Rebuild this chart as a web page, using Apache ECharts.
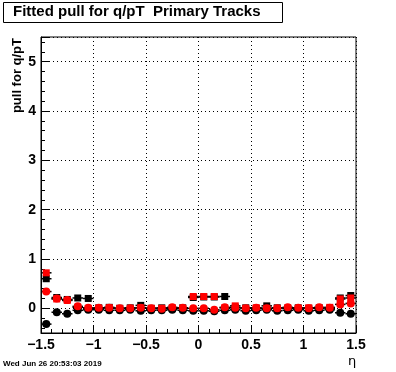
<!DOCTYPE html>
<html lang="en">
  <head>
    <meta charset="UTF-8" />
    <title>Fitted pull for q/pT</title>
    <script src="https://cdn.jsdelivr.net/npm/echarts@6/dist/echarts.min.js"></script>
    <style>
      html, body { margin: 0; padding: 0; background: #fff; }
      #chart { width: 396px; height: 372px; }
    </style>
  </head>
  <body>
    <div id="chart"></div>
    <script>
      // eta bin centres (bin width 0.1)
      const etaBins = [-1.45, -1.35, -1.25, -1.15, -1.05, -0.95, -0.85, -0.75, -0.65, -0.55,
                       -0.45, -0.35, -0.25, -0.15, -0.05, 0.05, 0.15, 0.25, 0.35, 0.45,
                       0.55, 0.65, 0.75, 0.85, 0.95, 1.05, 1.15, 1.25, 1.35, 1.45]
      const blackSquares = [0.60, 0.22, 0.18, 0.21, 0.20, 0.01, 0.02, 0.00, 0.01, 0.06,
                            0.00, 0.01, 0.00, 0.01, 0.22, 0.23, 0.23, 0.24, 0.02, 0.01,
                            0.00, 0.05, 0.01, 0.00, 0.01, 0.00, 0.01, 0.00, 0.21, 0.26]
      const redSquares = [0.72, 0.19, 0.16, 0.02, 0.00, 0.00, 0.01, 0.00, 0.00, 0.01,
                          0.00, 0.00, 0.01, 0.00, 0.24, 0.24, 0.24, 0.01, 0.05, 0.00,
                          0.01, 0.00, 0.00, 0.01, 0.00, 0.01, 0.00, 0.02, 0.19, 0.21]
      const blackCircles = [-0.32, -0.08, -0.11, -0.04, -0.03, -0.03, -0.04, -0.04, -0.03, -0.05,
                            -0.04, -0.04, -0.03, -0.04, -0.05, -0.05, -0.06, -0.04, -0.03, -0.05,
                            -0.04, -0.03, -0.05, -0.04, -0.03, -0.05, -0.04, -0.03, -0.09, -0.11]
      const redCircles = [0.34, 0.20, 0.17, 0.04, 0.01, 0.01, 0.01, 0.00, 0.00, 0.01,
                          0.00, -0.01, 0.02, 0.01, 0.00, 0.00, -0.03, 0.02, 0.01, 0.00,
                          0.01, 0.00, 0.00, 0.02, 0.01, 0.00, 0.02, 0.01, 0.08, 0.10]
      const halfWidth = 0.05

      const chart = echarts.init(document.getElementById('chart'))
      const font = 'Liberation Sans, Arial, Helvetica, sans-serif'

      // marker + horizontal error bar drawn through the axes
      function makeSeries(values, shape, color) {
        return {
          type: 'custom',
          data: etaBins.map((x, i) => [x, values[i]]),
          encode: { x: 0, y: 1 },
          clip: true,
          renderItem: (params, api) => {
            const x = api.value(0), y = api.value(1)
            const p = api.coord([x, y])
            const l = api.coord([x - halfWidth, y])
            const r = api.coord([x + halfWidth, y])
            const mark = shape === 'rect'
              ? { type: 'rect', shape: { x: p[0] - 3.5, y: p[1] - 3.5, width: 7, height: 7 }, style: { fill: color } }
              : { type: 'circle', shape: { cx: p[0], cy: p[1], r: 4 }, style: { fill: color } }
            return {
              type: 'group',
              children: [
                { type: 'line', shape: { x1: l[0], y1: l[1], x2: r[0], y2: r[1] }, style: { stroke: '#000', lineWidth: 1.5 } },
                mark
              ]
            }
          }
        }
      }

      const option = {
        animation: false,
        backgroundColor: '#fff',
        grid: { left: 41, right: 40, top: 37, bottom: 39, show: true, borderColor: '#000', borderWidth: 1 },
        xAxis: {
          type: 'value', min: -1.5, max: 1.5, interval: 0.5,
          axisLine: { onZero: false, lineStyle: { color: '#000' } },
          axisTick: { inside: true, length: 8, lineStyle: { color: '#000' } },
          minorTick: { show: true, splitNumber: 5, length: 4, lineStyle: { color: '#000' } },
          axisLabel: { color: '#000', fontFamily: font, fontWeight: 'bold', fontSize: 14, margin: 5,
            formatter: (v) => String(v).replace('-', '\u2212') },
          splitLine: { show: true, lineStyle: { color: '#000', type: [1, 3], width: 1 } }
        },
        yAxis: {
          type: 'value', min: -0.5, max: 5.5, splitNumber: 6,
          axisLine: { onZero: false, lineStyle: { color: '#000' } },
          axisTick: { inside: true, length: 8, lineStyle: { color: '#000' } },
          minorTick: { show: true, splitNumber: 5, length: 4, lineStyle: { color: '#000' } },
          axisLabel: { color: '#000', fontFamily: font, fontWeight: 'bold', fontSize: 14, margin: 5,
            showMinLabel: false, showMaxLabel: false },
          splitLine: { show: true, lineStyle: { color: '#000', type: [1, 3], width: 1 } }
        },
        graphic: [
          { type: 'rect', left: 3, top: 2, shape: { width: 279, height: 20 },
            style: { fill: '#fff', stroke: '#000', lineWidth: 1 } },
          { type: 'text', left: 13, top: 4,
            style: { text: 'Fitted pull for q/pT  Primary Tracks', font: 'bold 15px ' + font, fill: '#000' } },
          { type: 'text', x: 17, y: 38, rotation: Math.PI / 2,
            style: { text: 'pull for q/pT', font: 'bold 13px ' + font, fill: '#000', align: 'right', verticalAlign: 'middle' } },
          { type: 'text', left: 3, top: 360,
            style: { text: 'Wed Jun 26 20:53:03 2019', font: 'bold 8px ' + font, fill: '#000' } },
          { type: 'text', left: 348, top: 355,
            style: { text: '\u03b7', font: '13px DejaVu Sans', fill: '#000' } }
        ],
        series: [
          makeSeries(blackSquares, 'rect', '#000'),
          makeSeries(redSquares, 'rect', '#ff0000'),
          makeSeries(blackCircles, 'circle', '#000'),
          makeSeries(redCircles, 'circle', '#ff0000')
        ]
      }

      chart.setOption(option)
    </script>
  </body>
</html>
